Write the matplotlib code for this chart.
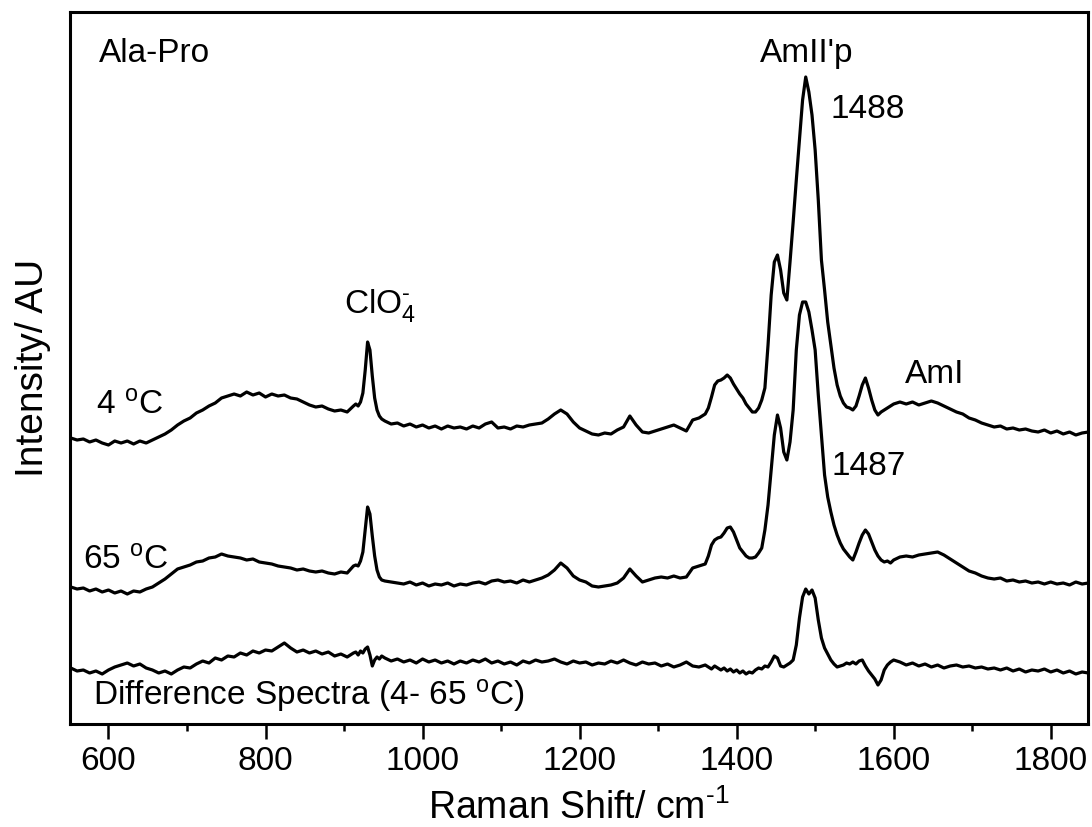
import matplotlib
matplotlib.use("Agg")
import matplotlib.pyplot as plt
from matplotlib.ticker import MultipleLocator

plt.rcParams["font.family"] = ["Liberation Sans", "DejaVu Sans"]
plt.rcParams["mathtext.fontset"] = "custom"
plt.rcParams["mathtext.rm"] = "Liberation Sans"
plt.rcParams["mathtext.it"] = "Liberation Sans:italic"
plt.rcParams["mathtext.bf"] = "Liberation Sans:bold"

# Raman shift sampling (cm^-1)
raman_shift = [
    552, 560, 568, 576, 584, 592, 600, 608, 616, 624, 632, 640, 648, 656, 664, 672,
    680, 688, 696, 704, 712, 720, 728, 736, 744, 752, 760, 768, 776, 784, 792, 800,
    808, 816, 824, 832, 840, 848, 856, 864, 872, 880, 888, 896, 904, 912,
    915, 918, 921, 924, 927, 930, 933, 936, 939, 942, 945, 948,
    952, 960, 968, 976, 984, 992, 1000, 1008, 1016, 1024, 1032, 1040, 1048, 1056,
    1064, 1072, 1080, 1088, 1096, 1104, 1112, 1120, 1128, 1136, 1144, 1152, 1160,
    1168, 1176, 1184, 1192, 1200, 1208, 1216, 1224, 1232, 1240, 1248, 1256, 1264,
    1272, 1280, 1288, 1296, 1304, 1312, 1320, 1328, 1336, 1344, 1352, 1360,
    1364, 1368, 1372, 1376, 1380, 1384, 1388, 1392, 1396, 1400, 1404, 1408, 1412,
    1416, 1420, 1424, 1428, 1432, 1436, 1440, 1444, 1448, 1452, 1456, 1460, 1464,
    1468, 1472, 1476, 1480, 1484, 1488, 1492, 1496, 1500, 1504, 1508, 1512, 1516,
    1520, 1524, 1528, 1532, 1536, 1540, 1544, 1548, 1552, 1556, 1560, 1564, 1568,
    1572, 1576, 1580, 1584, 1588, 1592, 1596, 1600,
    1608, 1616, 1624, 1632, 1640, 1648, 1656, 1664, 1672, 1680, 1688, 1696, 1704,
    1712, 1720, 1728, 1736, 1744, 1752, 1760, 1768, 1776, 1784, 1792, 1800, 1808,
    1816, 1824, 1832, 1840, 1848,
]

# Spectrum at 4 degC (arbitrary units, baseline-relative)
intensity_4c = [
    6, 4, 5, 2, 4, 1, -1, 3, 1, 3, 0, 3, 1, 4, 7, 10,
    14, 19, 23, 26, 31, 34, 38, 41, 46, 48, 50, 48, 52, 49, 51, 47,
    50, 48, 49, 46, 45, 42, 39, 37, 38, 35, 33, 34, 32, 38,
    40, 38, 42, 51, 74, 102, 94, 68, 46, 34, 28, 25,
    23, 20, 21, 18, 20, 17, 19, 16, 18, 15, 18, 16, 17, 15,
    18, 16, 20, 22, 16, 17, 15, 18, 17, 19, 20, 21, 25,
    30, 34, 30, 22, 16, 13, 10, 9, 11, 10, 14, 17, 28,
    19, 12, 11, 13, 15, 17, 19, 16, 13, 24, 26, 30,
    36, 47, 59, 63, 64, 66, 69, 66, 60, 55, 50, 46, 40,
    36, 32, 32, 36, 44, 56, 99, 149, 182, 189, 174, 151, 144,
    182, 222, 264, 304, 344, 367, 352, 329, 294, 244, 184, 154, 122,
    99, 76, 59, 48, 41, 37, 36, 34, 38, 48, 59, 66, 56,
    44, 34, 29, 32, 34, 36, 38, 40,
    42, 40, 42, 39, 41, 43, 41, 38, 35, 32, 30, 26, 24,
    21, 19, 17, 18, 15, 16, 14, 15, 13, 12, 14, 11, 13,
    10, 12, 9, 11, 12,
]

# Spectrum at 65 degC
intensity_65c = [
    7, 5, 6, 3, 5, 2, 4, 1, 3, 0, 3, 2, 5, 7, 11, 15,
    20, 25, 27, 29, 32, 33, 36, 37, 40, 38, 37, 36, 34, 35, 32, 31,
    30, 28, 27, 26, 24, 25, 23, 22, 23, 21, 20, 22, 21, 28,
    29, 28, 33, 42, 64, 87, 80, 58, 38, 24, 17, 14,
    13, 12, 11, 10, 12, 9, 11, 8, 10, 9, 11, 8, 10, 9,
    11, 12, 10, 13, 14, 12, 13, 11, 14, 12, 14, 16, 19,
    24, 31, 26, 18, 14, 12, 8, 7, 8, 9, 11, 16, 25,
    18, 12, 14, 16, 17, 16, 18, 16, 17, 26, 28, 30,
    38, 49, 54, 56, 57, 61, 66, 67, 62, 54, 46, 42, 38,
    36, 36, 37, 41, 46, 64, 89, 124, 159, 179, 166, 142, 134,
    152, 184, 244, 279, 292, 292, 282, 264, 244, 199, 159, 119, 97,
    82, 69, 59, 51, 45, 41, 37, 34, 42, 51, 59, 64, 60,
    52, 44, 38, 34, 32, 33, 31, 34,
    37, 38, 37, 39, 40, 41, 42, 39, 35, 31, 27, 23, 21,
    18, 16, 15, 16, 13, 14, 12, 13, 11, 12, 10, 12, 10,
    11, 9, 12, 10, 11,
]

# Difference spectrum (4 - 65 degC)
intensity_diff = [
    6, 3, 4, 1, 3, 0, 4, 7, 9, 11, 8, 10, 6, 4, 1, 3,
    0, 4, 7, 6, 10, 13, 11, 16, 14, 18, 17, 21, 19, 23, 21, 24,
    23, 27, 31, 26, 22, 24, 21, 23, 20, 22, 18, 20, 17, 21,
    22, 19, 23, 21, 25, 27, 19, 8, 14, 17, 15, 18,
    16, 13, 15, 12, 14, 11, 15, 12, 14, 11, 13, 10, 13, 11,
    14, 12, 15, 11, 13, 10, 12, 9, 13, 11, 14, 12, 13,
    15, 12, 10, 13, 11, 12, 9, 11, 10, 13, 11, 14, 11,
    9, 12, 10, 11, 8, 10, 7, 9, 12, 8, 7, 9,
    7, 5, 8, 6, 4, 6, 3, 5, 2, 4, 1, 3, 0,
    2, 1, 4, 6, 5, 8, 7, 12, 18, 16, 8, 7, 9,
    11, 14, 29, 56, 77, 85, 80, 84, 76, 54, 36, 26, 20,
    14, 10, 7, 8, 9, 11, 10, 12, 10, 13, 14, 8, 3,
    -1, -5, -11, -6, 4, 9, 12, 14,
    12, 9, 11, 8, 10, 7, 9, 6, 8, 9, 7, 8, 6,
    7, 5, 6, 4, 6, 3, 5, 2, 4, 3, 5, 2, 4,
    1, 3, 0, 2, 1,
]

# vertical stacking of the three traces
offset_4c = 280
offset_65c = 130
offset_diff = 50

fig = plt.figure(figsize=(10.92, 8.27), dpi=100)
ax = fig.add_axes([70 / 1092, 1 - 724 / 827, 1018 / 1092, 712.3 / 827])

line_kw = dict(color="black", lw=2.3, solid_joinstyle="round")
ax.plot(raman_shift, [v + offset_4c for v in intensity_4c], **line_kw)
ax.plot(raman_shift, [v + offset_65c for v in intensity_65c], **line_kw)
ax.plot(raman_shift, [v + offset_diff for v in intensity_diff], **line_kw)

ax.set_xlim(551, 1847.5)
ax.set_ylim(0, 712.3)

ax.xaxis.set_major_locator(MultipleLocator(200))
ax.xaxis.set_minor_locator(MultipleLocator(100))
ax.tick_params(axis="x", which="major", direction="out", length=11, width=1.8,
               labelsize=24, pad=5, top=False)
ax.tick_params(axis="x", which="minor", direction="out", length=5, width=1.8, top=False)
ax.tick_params(axis="y", which="both", left=False, right=False, labelleft=False)
for s in ax.spines.values():
    s.set_linewidth(2.2)

ax.set_xlabel(r"Raman Shift/ cm$^{\text{-1}}$", fontsize=27, labelpad=9)
ax.set_ylabel("Intensity/ AU", fontsize=28, labelpad=14)

fs = 24
ax.text(588, 662, "Ala-Pro", fontsize=fs, va="baseline")
ax.text(1430, 662, "AmII'p", fontsize=fs, va="baseline")
ax.text(1519, 606, "1488", fontsize=fs, va="baseline")
ax.text(900, 411, r"ClO$_{\text{4}}^{\text{-}}$", fontsize=fs, va="baseline")
ax.text(584, 309, r"4 $^{\text{o}}$C", fontsize=fs, va="baseline")
ax.text(1614, 341, "AmI", fontsize=fs, va="baseline")
ax.text(1521, 249, "1487", fontsize=fs, va="baseline")
ax.text(567, 154, r"65 $^{\text{o}}$C", fontsize=fs, va="baseline")
ax.text(580, 19, r"Difference Spectra (4- 65 $^{\text{o}}$C)", fontsize=fs, va="baseline")

fig.savefig("out.png", dpi=100)
